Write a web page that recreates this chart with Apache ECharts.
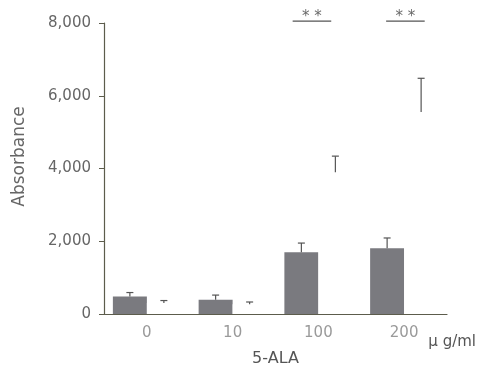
<!DOCTYPE html>
<html><head><meta charset="utf-8">
<script src="https://cdn.jsdelivr.net/npm/echarts@6/dist/echarts.min.js"></script>
<style>html,body{margin:0;padding:0;background:#fff}#c{width:481px;height:381px}</style>
</head><body><div id="c"></div>
<script>
const categories = ['0', '10', '100', '200'];
const greyValues = [480, 390, 1700, 1810];
const greyErrors = [110, 130, 250, 280];
const whiteValues = [300, 270, 3900, 5550];
const whiteErrors = [70, 60, 440, 930];
const yTicks = [0, 2000, 4000, 6000, 8000];
const sigSpans = [[1.70, 2.15], [2.79, 3.24]];
const sigLevel = 8050;
const sigText = '* *';

const FONT = 'DejaVu Sans';
const chart = echarts.init(document.getElementById('c'), null, {renderer: 'canvas'});
const BW = 34;
function errSeries(vals, errs, off) {
  return {
    type: 'custom', xAxisIndex: 0, yAxisIndex: 0, z: 5,
    data: vals.map((v, i) => [i, v, v + errs[i]]),
    renderItem: function (params, api) {
      const p0 = api.coord([api.value(0), api.value(1)]);
      const p1 = api.coord([api.value(0), api.value(2)]);
      const x = p0[0] + off;
      const st = {stroke: '#555', lineWidth: 1.2};
      return {type: 'group', children: [
        {type: 'line', shape: {x1: x, y1: p0[1], x2: x, y2: p1[1]}, style: st},
        {type: 'line', shape: {x1: x - 3.5, y1: p1[1], x2: x + 3.5, y2: p1[1]}, style: st}
      ]};
    }
  };
}
const series = [
  {type: 'bar', data: greyValues, barWidth: BW, barGap: '0%', itemStyle: {color: '#7a7a7f'}},
  {type: 'bar', data: whiteValues, barWidth: BW, itemStyle: {color: '#ffffff'}},
  errSeries(greyValues, greyErrors, -BW / 2),
  errSeries(whiteValues, whiteErrors, BW / 2)
];
sigSpans.forEach(s => {
  series.push({type: 'line', xAxisIndex: 1, yAxisIndex: 0, clip: false, symbol: 'none',
    lineStyle: {color: '#555', width: 1.2}, data: [[s[0], sigLevel], [s[1], sigLevel]], silent: true});
  series.push({type: 'scatter', xAxisIndex: 1, yAxisIndex: 0, clip: false, symbolSize: 0,
    data: [[(s[0] + s[1]) / 2, sigLevel]],
    label: {show: true, formatter: sigText, position: 'top', distance: -3, color: '#444', fontSize: 15, fontFamily: FONT}});
});

chart.setOption({
  animation: false,
  backgroundColor: '#fff',
  textStyle: {fontFamily: FONT},
  grid: {left: 104, right: 34, top: 23, bottom: 67},
  xAxis: [
    {type: 'category', data: categories,
     axisLine: {lineStyle: {color: '#5c5c4c', width: 1.2}},
     axisTick: {alignWithLabel: true, length: 5, lineStyle: {color: '#5c5c4c'}},
     axisLabel: {color: '#9a9a9a', fontSize: 15, margin: 12, fontFamily: FONT},
     name: '5-ALA', nameLocation: 'middle', nameGap: 37,
     nameTextStyle: {color: '#555', fontSize: 16, fontFamily: FONT}},
    {type: 'value', min: -0.5, max: 3.5, show: false}
  ],
  yAxis: {type: 'value', min: 0, max: 8000, interval: 2000,
    axisLine: {show: true, onZero: false, lineStyle: {color: '#5c5c4c', width: 1.2}},
    axisTick: {show: true, length: 5, lineStyle: {color: '#5c5c4c'}},
    splitLine: {show: false},
    axisLabel: {color: '#666', fontSize: 15, margin: 13, fontFamily: FONT,
      formatter: v => yTicks.includes(v) ? v.toLocaleString('en-US') : ''},
    name: 'Absorbance', nameLocation: 'middle', nameGap: 76, nameRotate: 90,
    nameTextStyle: {color: '#666', fontSize: 17, fontFamily: FONT, padding: [0, 0, 0, 24]}},
  graphic: [{type: 'text', right: 5, top: 335,
    style: {text: 'μ g/ml', fill: '#555', fontSize: 15, fontFamily: FONT}}],
  series: series
});
</script></body></html>
